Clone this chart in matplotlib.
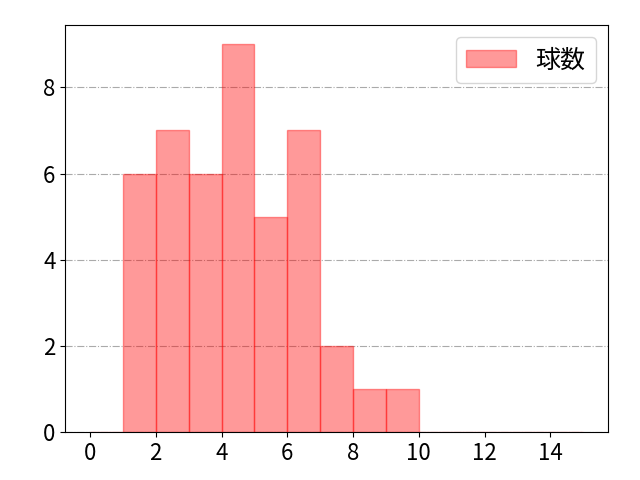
import matplotlib
matplotlib.use("Agg")
import matplotlib.pyplot as plt
import numpy as np

plt.rcParams["font.family"] = ["Noto Sans CJK JP", "DejaVu Sans"]
plt.rcParams["font.size"] = 17

# pitch-count histogram, one bin per integer
bin_edges = list(range(0, 16))
counts = [0, 6, 7, 6, 9, 5, 7, 2, 1, 1, 0, 0, 0, 0, 0]
legend_label = "球数"

fig, ax = plt.subplots(figsize=(6.4, 4.8), dpi=100)
fig.subplots_adjust(left=0.102, right=0.95, top=0.948, bottom=0.1)
ax.hist(bin_edges[:-1], bins=bin_edges, weights=counts,
        color="red", alpha=0.4, edgecolor="red", linewidth=1.0,
        label=legend_label)
ax.grid(axis="y", color="#aaaaaa", linestyle="-.", linewidth=0.8)
ax.set_axisbelow(True)
ax.set_xticks(np.arange(0, 16, 2))
ax.tick_params(labelsize=16)
ax.legend(loc="upper right", fontsize=18)

fig.savefig("out.png")
